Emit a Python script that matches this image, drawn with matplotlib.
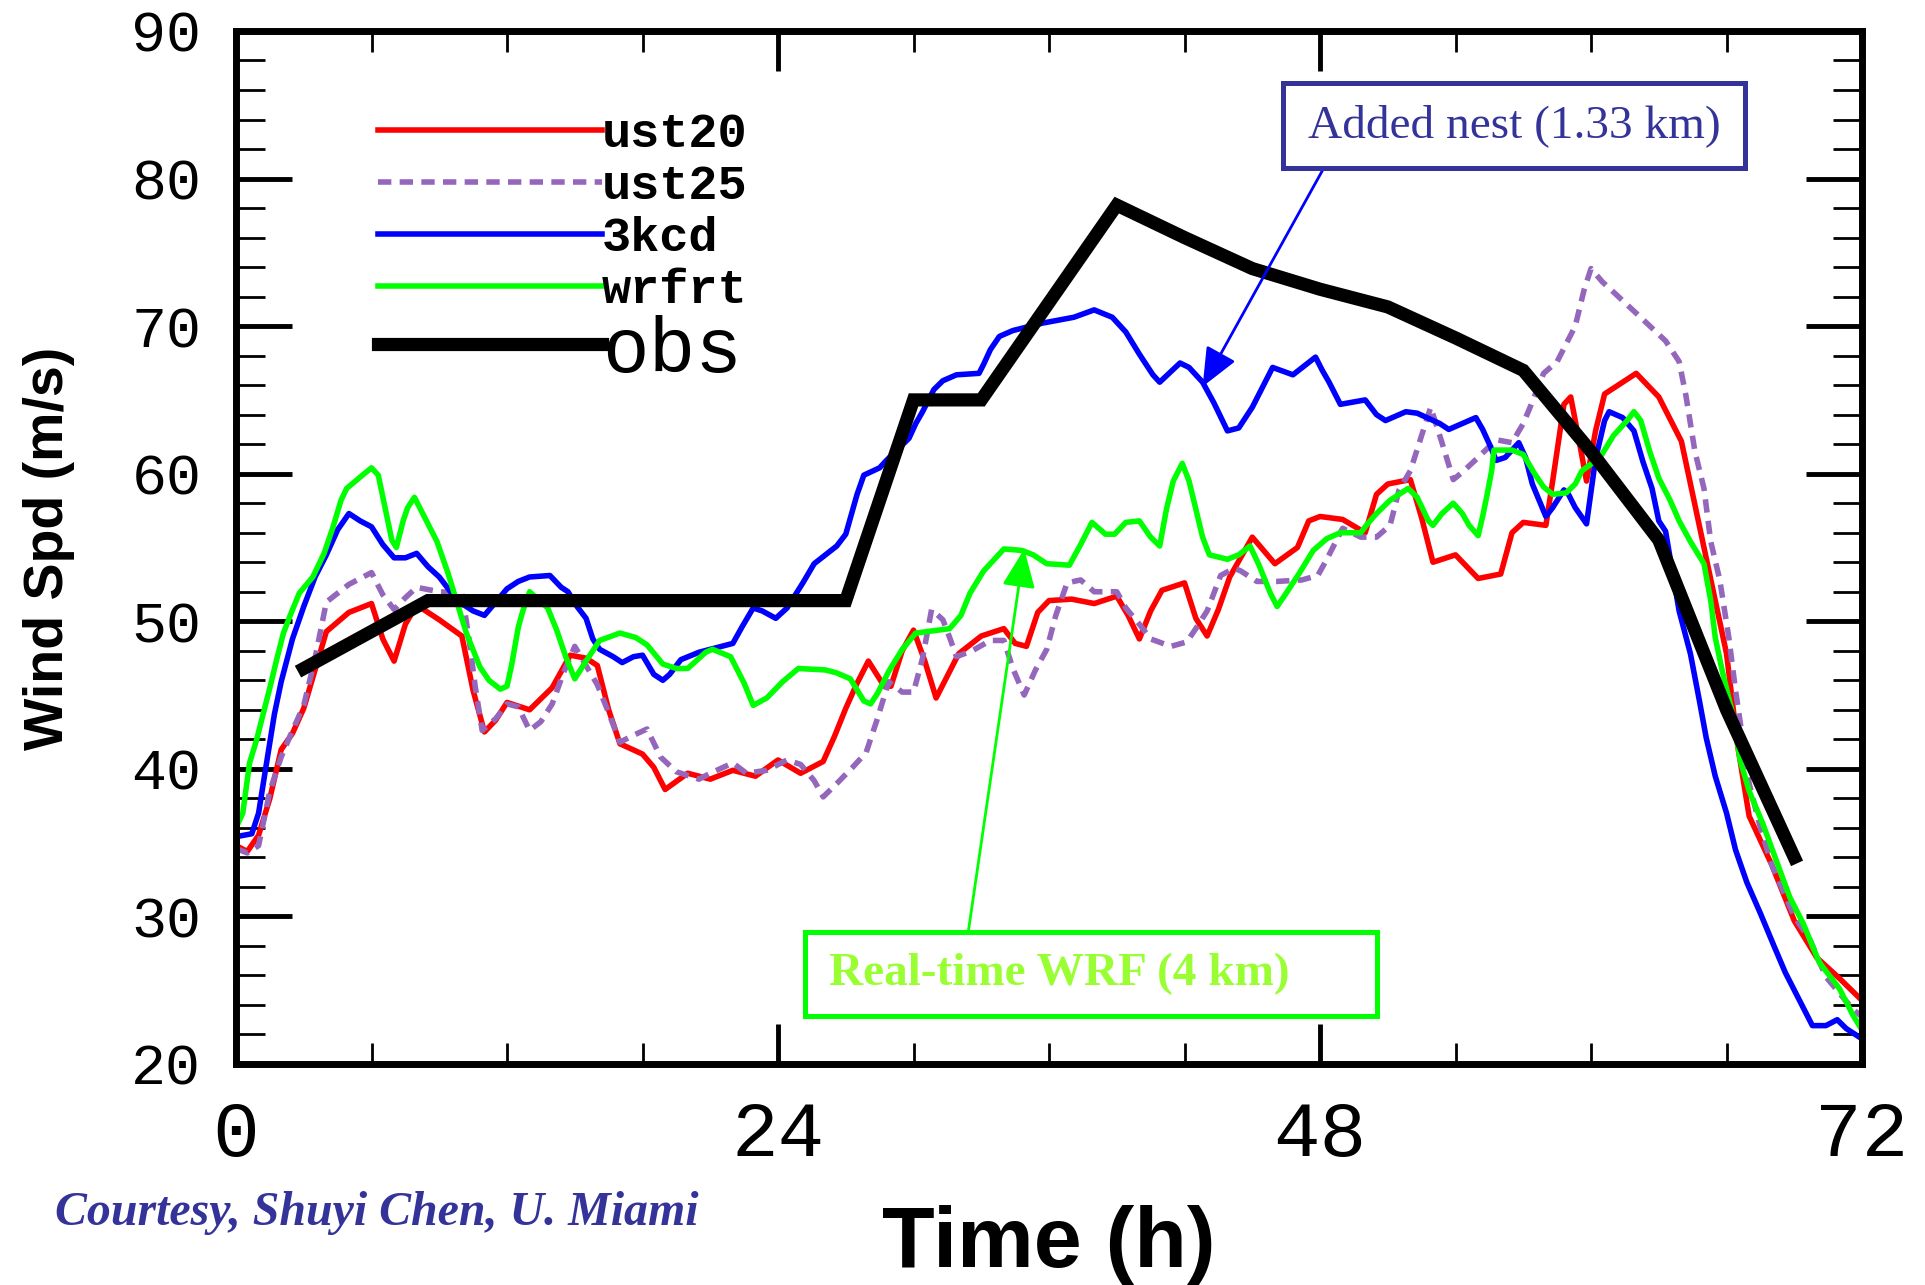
import matplotlib
matplotlib.use("Agg")
import matplotlib.pyplot as plt
from matplotlib.path import Path
from matplotlib.ticker import MultipleLocator, FixedLocator

# hours / wind speed (m/s) for each run
t_ust20 = [0, 0.5, 1, 1.5, 2, 2.5, 3, 3.5, 4, 5, 6, 6.5, 7, 7.5, 8, 9, 10, 10.5, 11, 11.5,
           12, 13, 14, 14.8, 15.5, 16, 16.5, 17, 18, 18.5, 19, 20, 21, 22, 23, 24, 25, 26,
           26.5, 27, 27.5, 28, 28.7, 29, 29.5, 30, 30.5, 31, 32, 33, 34, 34.5, 35, 35.5, 36,
           37, 38, 39, 39.5, 40, 40.5, 41, 42, 42.5, 43, 43.5, 44, 45, 46, 47, 47.5, 48, 49,
           50, 50.5, 51, 52, 52.5, 53, 54, 55, 56, 56.5, 57, 58, 58.3, 58.8, 59.1, 59.5, 59.8,
           60.2, 60.6, 61, 62, 63, 64, 65, 66, 66.5, 67, 68, 69, 70, 71, 72]
v_ust20 = [34.8, 34.4, 35.5, 38, 41.3, 42.4, 44.1, 46.7, 49.3, 50.6, 51.2, 48.8, 47.3, 49.8,
           51.1, 50.1, 49, 45.3, 42.5, 43.3, 44.5, 44, 45.5, 47.7, 47.5, 47, 44, 41.7, 41,
           40.1, 38.6, 39.7, 39.3, 39.9, 39.5, 40.6, 39.7, 40.5, 42.2, 44.1, 45.8, 47.3, 45.6,
           45.6, 48, 49.4, 47.3, 44.8, 47.8, 49, 49.5, 48.5, 48.3, 50.6, 51.4, 51.5, 51.2,
           51.7, 50.4, 48.8, 50.7, 52.1, 52.6, 50.2, 49, 50.8, 53, 55.7, 53.9, 55, 56.8, 57.1,
           56.9, 56, 58.6, 59.3, 59.6, 57, 54, 54.5, 52.9, 53.2, 56, 56.7, 56.5, 59.5, 64.7,
           65.2, 62, 59.5, 62.9, 65.4, 65.8, 66.8, 65.2, 62.2, 55, 47.8, 41.5, 36.8, 33.5,
           29.7, 27.2, 25.8, 24.3]

t_ust25 = [0, 0.5, 1, 1.5, 2, 2.5, 3, 3.5, 4, 5, 6, 6.5, 7, 7.5, 8, 9, 10, 10.3, 10.6, 10.9,
           11.5, 12, 12.5, 13, 13.5, 14, 14.5, 15, 15.5, 16, 16.5, 17, 17.5, 18.2, 18.8, 19.5,
           20.5, 21, 22, 22.6, 23.5, 24.4, 25, 25.6, 26, 26.6, 27.3, 27.9, 28.4, 28.9, 29.5,
           30, 30.4, 30.8, 31.3, 31.6, 31.9, 32.6, 33.4, 34, 34.4, 34.9, 35.4, 35.9, 36.3,
           36.8, 37.4, 38, 39, 39.4, 40, 40.5, 41.4, 42.1, 42.5, 43, 43.3, 43.6, 44.2, 44.5,
           45.2, 46.1, 47.2, 47.9, 48.3, 49, 49.8, 50.5, 51.1, 51.5, 52, 52.5, 52.9, 53.4,
           53.9, 54.3, 55, 55.8, 56.5, 57, 57.3, 57.9, 58.5, 58.9, 59.3, 59.7, 60, 60.5, 61,
           62.4, 63.3, 63.9, 64.2, 64.6, 65, 65.3, 65.7, 66.1, 66.4, 67, 67.5, 68, 69, 69.7,
           70.4, 71.6, 72]
v_ust25 = [34.6, 34.3, 34.8, 38.5, 40.8, 42.6, 44.3, 47.5, 51.3, 52.5, 53.3, 51.8, 50.8,
           51.6, 52.3, 52, 51.9, 49, 45.5, 42.6, 43.4, 44.4, 44.2, 42.6, 43.2, 44.4, 46.5,
           48.3, 47, 45.7, 43.8, 41.8, 42.2, 42.7, 40.8, 39.8, 39.3, 39.7, 40.4, 39.7, 39.9,
           40.6, 40.3, 39.2, 38.1, 39, 40.1, 41.1, 43.4, 45.9, 45.2, 45.2, 47.5, 50.8, 50.1,
           48.9, 47.6, 48, 48.7, 48.7, 46.8, 45, 46.7, 48.1, 50.4, 52.6, 52.8, 52, 52, 50.9,
           49.8, 48.8, 48.3, 48.6, 49.5, 50.7, 51.9, 53.1, 53.6, 53.4, 52.7, 52.7, 52.8, 53.1,
           54.2, 56.3, 55.7, 55.7, 56.5, 58.9, 60.2, 62.6, 64.5, 62.1, 59.6, 60.1, 61.1, 62.3,
           62.1, 63.4, 64.5, 66.8, 67.6, 68.8, 70, 72.5, 73.9, 73, 72.3, 70.3, 69, 67.6, 65.3,
           61.5, 59, 55.4, 52.8, 48.9, 45.3, 39, 36, 33.5, 30, 28.4, 25.9, 23.7, 23.2]

t_3kcd = [0, 0.7, 1, 1.3, 1.7, 2, 2.5, 3, 3.5, 4, 4.5, 5, 5.5, 6, 6.5, 7, 7.5, 8, 8.5, 9,
          9.5, 10, 10.5, 11, 11.5, 12, 12.5, 13, 13.9, 14.4, 14.7, 15.1, 15.5, 15.8, 16.1,
          16.7, 17.1, 17.6, 18, 18.5, 18.9, 19.2, 19.7, 20.5, 21.5, 22, 22.4, 22.9, 23.3,
          23.9, 24.4, 25.1, 25.6, 26.6, 27, 27.5, 27.8, 28.5, 28.8, 29.8, 30.1, 30.4, 30.9,
          31.3, 31.9, 32.9, 33.1, 33.4, 33.8, 34.4, 35.7, 37.1, 38, 38.8, 39.4, 40, 40.6,
          40.9, 41.8, 42.2, 42.8, 43.3, 43.9, 44.4, 45, 45.9, 46.8, 47.8, 48.1, 48.4, 48.9,
          50, 50.5, 50.9, 51.8, 52.3, 53.3, 53.7, 54.3, 54.9, 55.2, 55.5, 55.8, 56.2, 56.8,
          57.1, 57.4, 58, 58.3, 58.8, 59, 59.3, 59.8, 60.2, 60.6, 60.8, 61.4, 61.9, 62.3,
          62.7, 63, 63.3, 63.9, 64.4, 64.8, 65.1, 65.5, 66, 66.4, 66.9, 67.5, 68.1, 68.6,
          69.2, 69.8, 70.4, 70.9, 71.3, 72]
v_3kcd = [35.4, 35.6, 37, 39.9, 43.7, 45.9, 48.8, 51, 53, 54.5, 56.2, 57.3, 56.8, 56.4,
          55.2, 54.3, 54.3, 54.6, 53.7, 53, 52, 51.2, 50.7, 50.4, 51.3, 52.2, 52.7, 53, 53.1,
          52.3, 52, 51, 50.2, 48.8, 48.1, 47.6, 47.2, 47.6, 47.7, 46.4, 46, 46.4, 47.4, 47.9,
          48.3, 48.5, 49.6, 50.9, 50.7, 50.2, 50.9, 52.6, 53.9, 55.1, 55.9, 58.6, 59.9, 60.4,
          60.9, 62.4, 63.4, 64.2, 65.7, 66.3, 66.7, 66.8, 67.4, 68.4, 69.3, 69.7, 70.2, 70.6,
          71.1, 70.6, 69.6, 68.1, 66.7, 66.2, 67.5, 67.2, 66.2, 64.8, 62.9, 63.1, 64.5, 67.2,
          66.7, 67.9, 67, 66.2, 64.7, 65, 64, 63.6, 64.2, 64.1, 63.4, 63, 63.4, 63.8, 63, 62,
          60.9, 61.1, 62.1, 61.1, 59.3, 57.1, 57.7, 58.9, 58.6, 57.7, 56.6, 61, 63.6, 64.2,
          63.8, 62.9, 60.8, 59, 56.8, 56.1, 50.7, 47.8, 44.6, 42.1, 39.5, 37, 34.5, 32.3,
          30.2, 28, 26.2, 24.4, 22.6, 22.6, 23, 22.4, 21.7]

t_wrfrt = [0, 0.3, 0.6, 0.9, 1.2, 1.5, 1.8, 2.1, 2.4, 2.8, 3.4, 3.9, 4.3, 4.65, 4.9, 5.6, 6,
           6.3, 6.6, 6.9, 7.1, 7.4, 7.6, 7.9, 8.3, 8.9, 9.4, 9.8, 10.2, 10.8, 11.2, 11.7, 12,
           12.2, 12.5, 12.7, 13, 13.8, 14.2, 14.6, 15, 15.5, 16.1, 17, 17.7, 18.2, 18.9, 19.5,
           20, 20.8, 21.1, 21.9, 22.5, 22.9, 23.5, 24.2, 24.9, 26.1, 26.6, 27.2, 27.8, 28.1,
           28.4, 28.9, 29.5, 30.1, 31.6, 32.1, 32.5, 33.1, 33.7, 34, 34.8, 35.3, 35.9, 36.9,
           37.4, 37.9, 38.5, 38.9, 39.4, 40, 40.5, 40.9, 41.2, 41.5, 41.9, 42.2, 42.5, 42.8,
           43.1, 43.9, 44.4, 44.9, 45.3, 45.8, 46.1, 46.5, 47.1, 47.7, 48.3, 48.9, 49.8, 50.1,
           50.5, 51.1, 51.9, 52.3, 52.8, 53, 53.4, 53.9, 54.3, 54.6, 55, 55.2, 55.4, 55.6,
           55.7, 56.5, 57, 57.5, 57.9, 58.3, 58.9, 59.3, 59.6, 60.4, 61, 61.6, 61.9, 62.2,
           62.6, 63, 63.5, 63.9, 64.4, 65, 65.3, 65.5, 65.8, 66.3, 66.6, 67, 67.6, 68.2, 68.8,
           69.4, 70.1, 71, 71.6, 72]
v_wrfrt = [36, 37, 40.4, 41.9, 43.7, 45.5, 47.4, 49.2, 50.4, 51.9, 53, 54.6, 56.4, 58.2, 59,
           59.9, 60.4, 59.9, 57.7, 55.5, 55, 56.8, 57.7, 58.4, 57.2, 55.4, 53.2, 51.2, 49.2,
           46.9, 46, 45.4, 45.6, 47, 49.6, 50.7, 52, 50.9, 49.4, 47.6, 46.1, 47.3, 48.7, 49.2,
           48.9, 48.4, 47.1, 46.8, 46.8, 47.9, 48.1, 47.6, 45.8, 44.3, 44.8, 45.9, 46.8, 46.7,
           46.5, 46.1, 44.6, 44.4, 45.1, 46.6, 48.1, 49.2, 49.5, 50.4, 51.9, 53.4, 54.4, 54.9,
           54.8, 54.5, 53.9, 53.8, 55.2, 56.7, 55.9, 55.9, 56.7, 56.8, 55.7, 55.1, 57.6, 59.5,
           60.7, 59.5, 57.6, 55.7, 54.5, 54.2, 54.5, 55.1, 53.8, 51.9, 51, 51.9, 53.3, 54.8,
           55.6, 56, 56, 56.6, 57.3, 58.2, 59, 58.4, 56.8, 56.5, 57.3, 58, 57.3, 56.5, 55.8,
           57.1, 58.6, 60.2, 61.6, 61.6, 61.3, 60, 59.1, 58.6, 58.7, 59.3, 60.2, 61.1, 62.6,
           63.6, 64.2, 63.6, 61.5, 59.7, 58.2, 56.8, 55.4, 53.9, 51.4, 48.9, 46.7, 43.5, 40.6,
           38.5, 36.3, 33.8, 31.3, 29.5, 26.9, 25.1, 23.3, 22.3]

t_obs = [3, 8.5, 27, 30, 33, 39, 42, 45, 48, 51, 54, 57, 60, 63, 66, 69]
v_obs = [46.8, 51.4, 51.4, 65, 65, 78.2, 76, 73.9, 72.5, 71.3, 69.2, 67, 61.5, 55.5, 44, 34]

NAVY = '#333399'


def box_pad(padl, padr, pady):
	# square box with separate left / right / vertical padding (in fontsize units)
	def _box(x0, y0, width, height, mutation_size):
		x1 = x0 + width + padr * mutation_size
		y1 = y0 + height + pady * mutation_size
		x0 = x0 - padl * mutation_size
		y0 = y0 - pady * mutation_size
		return Path([(x0, y0), (x1, y0), (x1, y1), (x0, y1), (x0, y0)], closed=True)
	return _box


def plot_wind(out_file='out.png'):
	fig = plt.figure(figsize=(19.25, 12.85), dpi=100)
	ax = fig.add_axes([0.1226, 0.1720, 0.8447, 0.8039])

	lw = 4.0
	l1, = ax.plot(t_ust20, v_ust20, color='#ff0000', lw=lw, label='ust20')
	l2, = ax.plot(t_ust25, v_ust25, color='#9467bd', lw=lw, ls=(0, (2.4, 1.5)), label='ust25')
	l3, = ax.plot(t_3kcd, v_3kcd, color='#0000ff', lw=lw, label='3kcd')
	l4, = ax.plot(t_wrfrt, v_wrfrt, color='#00ff00', lw=lw, label='wrfrt')
	l5, = ax.plot(t_obs, v_obs, color='k', lw=9.5, solid_joinstyle='miter', label='obs')

	ax.set_xlim(0, 72)
	ax.set_ylim(20, 90)
	ax.xaxis.set_major_locator(FixedLocator([0, 24, 48, 72]))
	ax.xaxis.set_minor_locator(MultipleLocator(6))
	ax.yaxis.set_major_locator(MultipleLocator(10))
	ax.yaxis.set_minor_locator(MultipleLocator(2))

	for sp in ax.spines.values():
		sp.set_linewidth(5)
	ax.tick_params(axis='y', which='major', direction='in', left=True, right=True,
				   length=40, width=3.5, pad=25)
	ax.tick_params(axis='y', which='minor', direction='in', left=True, right=True,
				   length=21, width=2)
	ax.tick_params(axis='x', which='major', direction='in', bottom=True, top=True,
				   length=29, width=3.5, pad=25)
	ax.tick_params(axis='x', which='minor', direction='in', bottom=True, top=True,
				   length=15, width=2)
	for lab in ax.get_yticklabels():
		lab.set_fontfamily('Liberation Mono')
		lab.set_fontsize(42)
	for lab in ax.get_xticklabels():
		lab.set_fontfamily('Liberation Mono')
		lab.set_fontsize(56)

	fig.text(0.0255, 0.573, 'Wind Spd (m/s)', rotation=90, ha='center', va='center',
			 family='Liberation Sans', weight='bold', fontsize=40)
	fig.text(0.545, 0.031, 'Time (h)', ha='center', va='center',
			 family='Liberation Sans', weight='bold', fontsize=62)
	fig.text(0.0286, 0.056, 'Courtesy, Shuyi Chen, U. Miami', ha='left', va='center',
			 family='Liberation Serif', style='italic', weight='bold', fontsize=34.5, color=NAVY)

	# model runs legend, obs gets its own (bigger font)
	leg = ax.legend(handles=[l1, l2, l3, l4], loc='upper left', bbox_to_anchor=(0.0873, 0.922),
					frameon=False, borderpad=0, borderaxespad=0, handlelength=4.6,
					handletextpad=0, labelspacing=0.15,
					prop={'family': 'Liberation Mono', 'weight': 'bold', 'size': 35})
	ax.add_artist(leg)
	ax.legend(handles=[l5], loc='center left', bbox_to_anchor=(0.0873, 0.690),
			  frameon=False, borderpad=0, borderaxespad=0, handlelength=2.88,
			  handletextpad=0, prop={'family': 'Liberation Mono', 'size': 56})

	arrow = '-|>,head_length=0.7,head_width=0.3'
	ax.annotate('Added nest (1.33 km)', xy=(42.8, 65.9), xytext=(56.6, 83.6),
				ha='center', va='center', fontsize=34, family='Liberation Serif', color=NAVY,
				bbox=dict(boxstyle=box_pad(0.52, 0.52, 0.45), fc='white', ec=NAVY, lw=3.6),
				arrowprops=dict(arrowstyle=arrow, color='#0000ff', lw=2,
								relpos=(0.067, 0), shrinkA=0, shrinkB=0))
	ax.annotate('Real-time WRF (4 km)', xy=(34.9, 54.9), xytext=(36.47, 26.1),
				ha='center', va='center', fontsize=34, family='Liberation Serif',
				weight='bold', color='#99ff33',
				bbox=dict(boxstyle=box_pad(0.52, 1.84, 0.45), fc='white', ec='#00ff00', lw=3.6),
				arrowprops=dict(arrowstyle=arrow, color='#00ff00', lw=2,
								relpos=(0.295, 1), shrinkA=0, shrinkB=0))

	fig.savefig(out_file, dpi=100)


if __name__ == '__main__':
	plot_wind()
